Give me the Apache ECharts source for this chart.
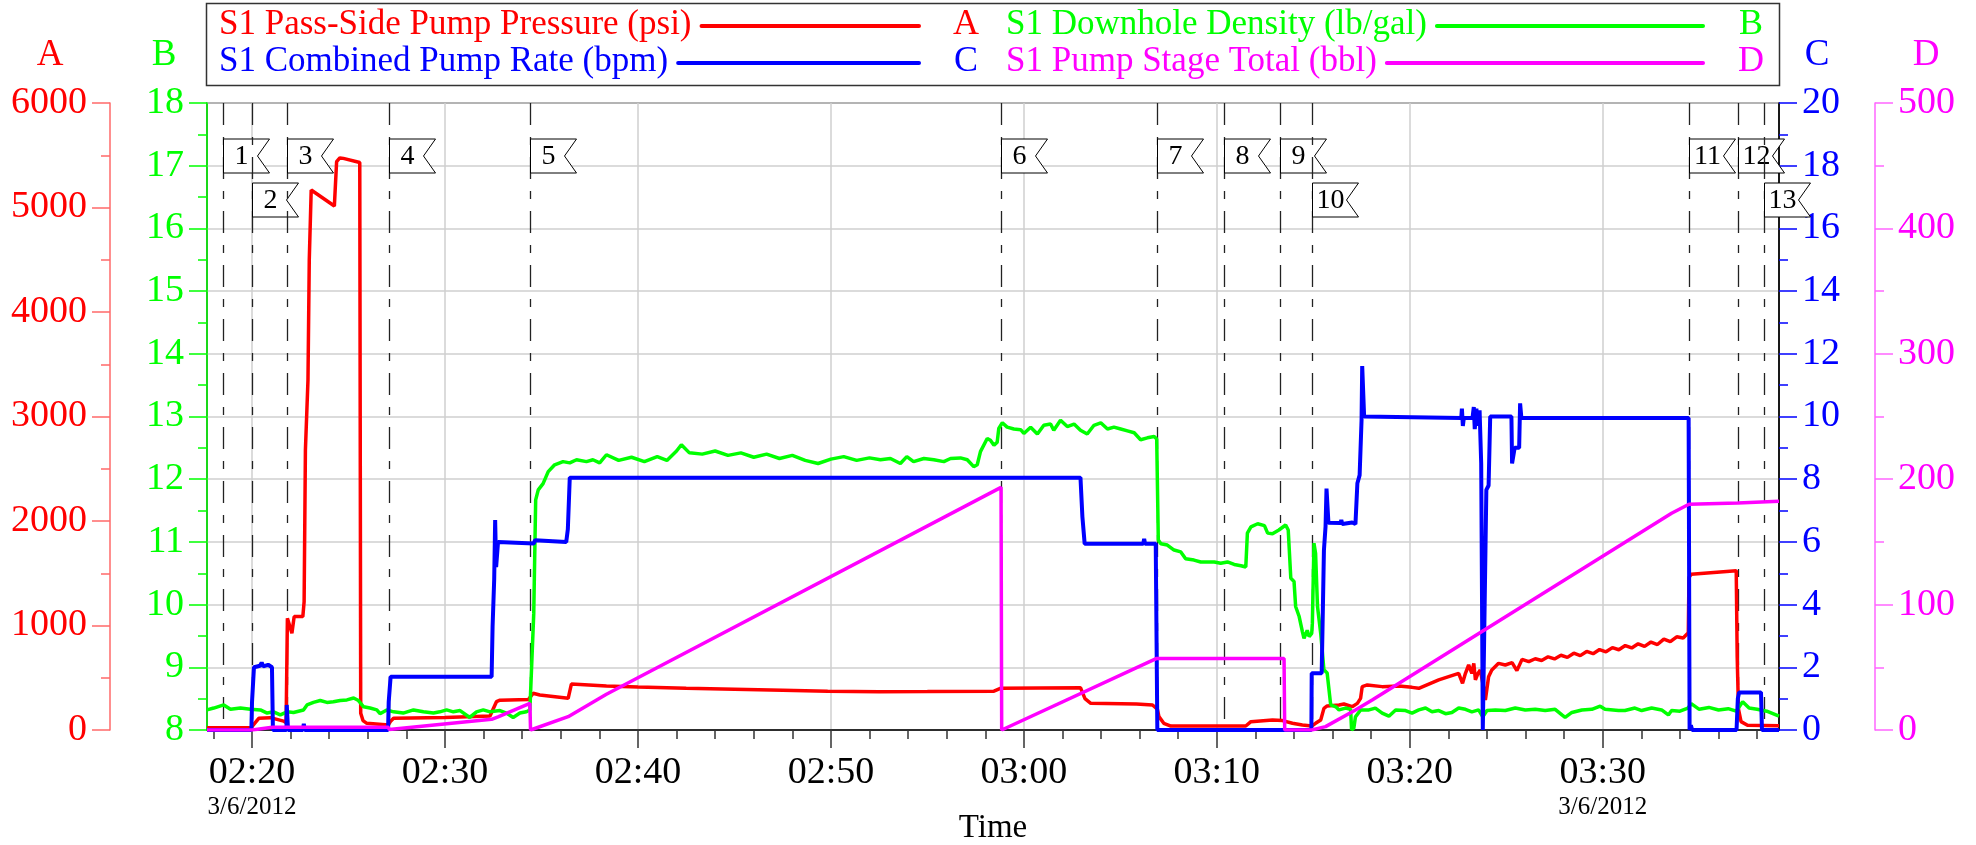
<!DOCTYPE html>
<html>
<head>
<meta charset="utf-8">
<title>S1 Pump Stage Chart</title>
<script src="https://cdn.jsdelivr.net/npm/echarts@6/dist/echarts.min.js"></script>
<style>
html, body { margin: 0; padding: 0; background: #fff; }
#chart { width: 1976px; height: 845px; }
</style>
</head>
<body>
<div id="chart"></div>
<script>
// 时间范围与刻度
const xStart = '02:17:40';
const xEnd = '03:39:08';
const timeTicks = ['02:20', '02:30', '02:40', '02:50', '03:00', '03:10', '03:20', '03:30'];
const dateText = '3/6/2012';

// 事件标记 (1..13)
const markerTimes = ['02:18:29', '02:20:00', '02:21:50', '02:27:05', '02:34:24', '02:58:49', '03:06:55',
    '03:10:23', '03:13:16', '03:14:55', '03:34:28', '03:36:59', '03:38:20'];

// A: S1 Pass-Side Pump Pressure (psi)
const pressurePoints = [
    ['02:17:40', 22], ['02:19:58', 25], ['02:20:10', 70], ['02:20:21', 112], ['02:20:57', 118],
    ['02:21:38', 85], ['02:21:46', 70], ['02:21:50', 1069], ['02:22:04', 925], ['02:22:11', 1085],
    ['02:22:38', 1085], ['02:22:42', 1228], ['02:22:46', 2680], ['02:22:54', 3350], ['02:22:58', 4498],
    ['02:23:04', 5167], ['02:24:16', 5014], ['02:24:23', 5438], ['02:24:33', 5474], ['02:24:44', 5470],
    ['02:25:35', 5430], ['02:25:38', 160], ['02:25:45', 90], ['02:25:57', 64], ['02:27:04', 48],
    ['02:27:10', 80], ['02:27:20', 112], ['02:30:00', 120], ['02:32:20', 134], ['02:32:40', 271],
    ['02:32:51', 285], ['02:34:20', 293], ['02:34:25', 280], ['02:34:34', 351], ['02:34:55', 335],
    ['02:36:23', 303], ['02:36:33', 440], ['02:38:22', 421], ['02:40:00', 412], ['02:42:30', 400],
    ['02:45:00', 390], ['02:47:30', 380], ['02:49:50', 370], ['02:52:30', 367], ['02:55:00', 368],
    ['02:58:27', 372], ['02:58:47', 399], ['03:02:56', 405], ['03:03:10', 300], ['03:03:28', 255],
    ['03:05:50', 249], ['03:06:40', 239], ['03:06:55', 200], ['03:07:00', 128], ['03:07:15', 64],
    ['03:07:37', 38], ['03:11:30', 38], ['03:11:46', 80], ['03:12:53', 96], ['03:13:24', 90],
    ['03:13:55', 64], ['03:14:26', 48], ['03:14:55', 38], ['03:15:07', 64], ['03:15:23', 96],
    ['03:15:33', 207], ['03:15:43', 230], ['03:16:20', 239], ['03:16:35', 249], ['03:17:01', 223],
    ['03:17:17', 255], ['03:17:27', 303], ['03:17:32', 415], ['03:17:48', 431], ['03:18:34', 415],
    ['03:19:26', 421], ['03:20:07', 408], ['03:20:28', 399], ['03:21:30', 479], ['03:22:32', 542],
    ['03:22:44', 447], ['03:22:53', 542], ['03:23:03', 622], ['03:23:13', 542], ['03:23:19', 638],
    ['03:23:24', 479], ['03:23:32', 542], ['03:23:39', 574], ['03:23:50', 400], ['03:23:55', 287],
    ['03:24:05', 510], ['03:24:15', 574], ['03:24:36', 638], ['03:24:57', 622], ['03:25:18', 644],
    ['03:25:33', 568], ['03:25:49', 676], ['03:26:10', 655], ['03:26:30', 682], ['03:26:50', 665],
    ['03:27:10', 700], ['03:27:30', 680], ['03:27:50', 715], ['03:28:10', 695], ['03:28:30', 735],
    ['03:28:50', 712], ['03:29:10', 752], ['03:29:30', 730], ['03:29:50', 770], ['03:30:10', 748],
    ['03:30:30', 788], ['03:30:50', 768], ['03:31:10', 808], ['03:31:30', 785], ['03:31:50', 825],
    ['03:32:10', 800], ['03:32:30', 842], ['03:32:50', 818], ['03:33:10', 870], ['03:33:30', 845],
    ['03:33:50', 892], ['03:34:10', 880], ['03:34:26', 930], ['03:34:28', 1460], ['03:34:35', 1490],
    ['03:36:55', 1525], ['03:36:58', 700], ['03:37:02', 200], ['03:37:10', 80], ['03:37:30', 45],
    ['03:39:08', 40]
];

// B: S1 Downhole Density (lb/gal)
const densityPoints = [
    ['02:17:40', 8.32], ['02:18:01', 8.35], ['02:18:32', 8.40], ['02:18:53', 8.33], ['02:19:24', 8.35],
    ['02:19:55', 8.33], ['02:20:26', 8.32], ['02:20:47', 8.27], ['02:21:07', 8.29], ['02:21:28', 8.24],
    ['02:21:49', 8.29], ['02:22:09', 8.28], ['02:22:40', 8.32], ['02:22:51', 8.40], ['02:23:11', 8.44],
    ['02:23:32', 8.47], ['02:23:53', 8.44], ['02:24:13', 8.45], ['02:24:34', 8.47], ['02:24:55', 8.48],
    ['02:25:16', 8.51], ['02:25:31', 8.47], ['02:25:47', 8.37], ['02:26:07', 8.35], ['02:26:28', 8.32],
    ['02:26:38', 8.26], ['02:26:59', 8.32], ['02:27:20', 8.29], ['02:27:50', 8.27], ['02:28:22', 8.32],
    ['02:28:53', 8.29], ['02:29:24', 8.27], ['02:29:44', 8.29], ['02:30:05', 8.32], ['02:30:26', 8.29],
    ['02:30:47', 8.31], ['02:31:17', 8.20], ['02:31:38', 8.29], ['02:31:59', 8.32], ['02:32:20', 8.29],
    ['02:32:51', 8.31], ['02:33:11', 8.27], ['02:33:32', 8.20], ['02:33:53', 8.27], ['02:34:13', 8.29],
    ['02:34:24', 8.32], ['02:34:36', 9.86], ['02:34:42', 11.67], ['02:34:50', 11.83], ['02:35:05', 11.93],
    ['02:35:21', 12.12], ['02:35:41', 12.23], ['02:36:07', 12.28], ['02:36:28', 12.26], ['02:36:49', 12.31],
    ['02:37:20', 12.28], ['02:37:40', 12.31], ['02:38:01', 12.26], ['02:38:22', 12.39], ['02:39:00', 12.30],
    ['02:39:40', 12.35], ['02:40:20', 12.28], ['02:41:00', 12.36], ['02:41:30', 12.30], ['02:42:00', 12.45],
    ['02:42:15', 12.55], ['02:42:40', 12.42], ['02:43:20', 12.40], ['02:44:00', 12.45], ['02:44:40', 12.38],
    ['02:45:20', 12.42], ['02:46:00', 12.35], ['02:46:40', 12.40], ['02:47:20', 12.33], ['02:48:00', 12.38],
    ['02:48:40', 12.30], ['02:49:20', 12.25], ['02:50:00', 12.32], ['02:50:40', 12.36], ['02:51:20', 12.30],
    ['02:52:00', 12.34], ['02:52:34', 12.31], ['02:53:05', 12.33], ['02:53:36', 12.25], ['02:53:56', 12.36],
    ['02:54:17', 12.28], ['02:54:49', 12.33], ['02:55:20', 12.31], ['02:55:51', 12.28], ['02:56:12', 12.33],
    ['02:56:43', 12.34], ['02:57:04', 12.31], ['02:57:24', 12.20], ['02:57:35', 12.23], ['02:57:45', 12.44],
    ['02:58:06', 12.65], ['02:58:16', 12.62], ['02:58:27', 12.54], ['02:58:37', 12.59], ['02:58:42', 12.81],
    ['02:58:53', 12.90], ['02:59:08', 12.83], ['02:59:29', 12.80], ['02:59:50', 12.79], ['03:00:00', 12.73],
    ['03:00:21', 12.83], ['03:00:42', 12.72], ['03:01:02', 12.86], ['03:01:23', 12.88], ['03:01:33', 12.78],
    ['03:01:54', 12.94], ['03:02:15', 12.84], ['03:02:36', 12.88], ['03:02:56', 12.78], ['03:03:17', 12.72],
    ['03:03:38', 12.86], ['03:03:59', 12.90], ['03:04:20', 12.80], ['03:04:40', 12.83], ['03:05:01', 12.80],
    ['03:05:22', 12.77], ['03:05:43', 12.74], ['03:06:03', 12.63], ['03:06:24', 12.66], ['03:06:45', 12.68],
    ['03:06:53', 12.64], ['03:06:58', 11.03], ['03:07:06', 10.97], ['03:07:26', 10.95], ['03:07:47', 10.87],
    ['03:08:08', 10.84], ['03:08:23', 10.73], ['03:08:49', 10.71], ['03:09:10', 10.68], ['03:09:31', 10.68],
    ['03:09:52', 10.68], ['03:10:12', 10.66], ['03:10:33', 10.68], ['03:10:54', 10.64], ['03:11:15', 10.62],
    ['03:11:30', 10.60], ['03:11:35', 11.14], ['03:11:46', 11.24], ['03:12:07', 11.29], ['03:12:28', 11.26],
    ['03:12:38', 11.14], ['03:12:53', 11.13], ['03:13:13', 11.19], ['03:13:34', 11.27], ['03:13:42', 11.19],
    ['03:13:50', 10.42], ['03:14:00', 10.37], ['03:14:05', 9.97], ['03:14:16', 9.81], ['03:14:26', 9.57],
    ['03:14:31', 9.46], ['03:14:41', 9.59], ['03:14:47', 9.49], ['03:14:55', 9.54], ['03:14:57', 9.70],
    ['03:15:02', 10.98], ['03:15:07', 10.82], ['03:15:13', 9.97], ['03:15:23', 9.54], ['03:15:33', 8.96],
    ['03:15:43', 8.91], ['03:15:54', 8.40], ['03:16:10', 8.37], ['03:16:20', 8.32], ['03:16:40', 8.35],
    ['03:16:56', 8.33], ['03:16:59', 8.00], ['03:17:06', 8.03], ['03:17:11', 8.21], ['03:17:27', 8.32],
    ['03:17:53', 8.32], ['03:18:13', 8.35], ['03:18:34', 8.27], ['03:18:55', 8.22], ['03:19:16', 8.32],
    ['03:19:47', 8.31], ['03:20:07', 8.27], ['03:20:28', 8.32], ['03:20:49', 8.35], ['03:21:09', 8.29],
    ['03:21:30', 8.31], ['03:21:51', 8.26], ['03:22:11', 8.28], ['03:22:32', 8.35], ['03:22:53', 8.33],
    ['03:23:13', 8.29], ['03:23:34', 8.32], ['03:23:47', 8.21], ['03:24:00', 8.31], ['03:24:26', 8.32],
    ['03:24:57', 8.31], ['03:25:28', 8.35], ['03:25:59', 8.32], ['03:26:30', 8.33], ['03:27:01', 8.31],
    ['03:27:32', 8.33], ['03:27:53', 8.24], ['03:28:03', 8.20], ['03:28:24', 8.28], ['03:28:55', 8.32],
    ['03:29:26', 8.33], ['03:29:52', 8.38], ['03:30:07', 8.33], ['03:30:49', 8.31], ['03:31:09', 8.31],
    ['03:31:40', 8.35], ['03:32:01', 8.31], ['03:32:32', 8.35], ['03:33:03', 8.32], ['03:33:24', 8.24],
    ['03:33:34', 8.31], ['03:34:00', 8.30], ['03:34:25', 8.35], ['03:34:35', 8.42], ['03:35:00', 8.33],
    ['03:35:30', 8.36], ['03:36:00', 8.32], ['03:36:30', 8.34], ['03:36:55', 8.30], ['03:37:15', 8.45],
    ['03:37:35', 8.35], ['03:38:00', 8.33], ['03:38:30', 8.30], ['03:39:08', 8.22]
];

// C: S1 Combined Pump Rate (bpm)
const ratePoints = [
    ['02:17:40', 0], ['02:19:58', 0], ['02:20:00', 0.9], ['02:20:06', 2.0], ['02:20:25', 2.05],
    ['02:20:30', 2.15], ['02:20:35', 2.03], ['02:20:50', 2.08], ['02:21:02', 2.0], ['02:21:05', 0],
    ['02:21:47', 0], ['02:21:48', 0.8], ['02:21:52', 0], ['02:22:38', 0], ['02:22:41', 0.2],
    ['02:22:44', 0], ['02:27:03', 0], ['02:27:05', 0.9], ['02:27:11', 1.7], ['02:32:25', 1.7],
    ['02:32:28', 3.3], ['02:32:33', 4.8], ['02:32:36', 6.7], ['02:32:39', 5.2], ['02:32:45', 6.0],
    ['02:34:36', 5.95], ['02:34:40', 6.05], ['02:36:17', 6.0], ['02:36:22', 6.4], ['02:36:28', 8.05],
    ['03:02:56', 8.05], ['03:03:02', 6.8], ['03:03:09', 5.94], ['03:06:11', 5.94], ['03:06:14', 6.1],
    ['03:06:17', 5.94], ['03:06:50', 5.94], ['03:06:55', 0], ['03:14:54', 0], ['03:14:55', 1.81],
    ['03:15:26', 1.81], ['03:15:30', 4.04], ['03:15:33', 5.74], ['03:15:38', 6.49], ['03:15:41', 7.7],
    ['03:15:47', 6.61], ['03:16:25', 6.6], ['03:16:27', 6.7], ['03:16:30', 6.57], ['03:17:01', 6.62],
    ['03:17:11', 6.57], ['03:17:17', 7.87], ['03:17:24', 8.13], ['03:17:30', 9.89], ['03:17:32', 11.61],
    ['03:17:38', 10.0], ['03:22:40', 9.95], ['03:22:42', 10.25], ['03:22:45', 9.7], ['03:22:48', 9.95],
    ['03:23:15', 9.95], ['03:23:19', 10.3], ['03:23:22', 9.6], ['03:23:27', 10.25], ['03:23:32', 9.7],
    ['03:23:37', 10.2], ['03:23:42', 8.5], ['03:23:47', 0], ['03:23:52', 0], ['03:23:58', 7.66],
    ['03:24:05', 7.8], ['03:24:10', 10.0], ['03:25:16', 10.0], ['03:25:18', 8.5], ['03:25:26', 9.0],
    ['03:25:40', 9.0], ['03:25:43', 10.42], ['03:25:47', 9.95], ['03:34:27', 9.95], ['03:34:30', 0],
    ['03:34:34', 0.15], ['03:34:38', 0], ['03:36:56', 0], ['03:37:00', 1.0], ['03:37:04', 1.2],
    ['03:38:12', 1.2], ['03:38:15', 0], ['03:39:08', 0]
];

// D: S1 Pump Stage Total (bbl)
const stagePoints = [
    ['02:17:40', 0], ['02:20:00', 0], ['02:20:57', 2.0], ['02:21:05', 2.1], ['02:27:04', 2.1],
    ['02:27:07', 0.4], ['02:32:25', 8.5], ['02:32:45', 10.5], ['02:34:24', 21.3], ['02:34:26', 0],
    ['02:36:23', 10.6], ['02:38:22', 28.5], ['02:58:49', 193.5], ['02:58:51', 0], ['03:06:53', 57.1],
    ['03:13:29', 57.1], ['03:13:31', 0], ['03:14:55', 0], ['03:15:38', 2.7], ['03:17:11', 16],
    ['03:18:03', 24], ['03:33:34', 172.8], ['03:34:28', 180], ['03:37:00', 181], ['03:39:08', 182.5]
];

const seriesNames = ['S1 Pass-Side Pump Pressure (psi)', 'S1 Combined Pump Rate (bpm)',
    'S1 Downhole Density (lb/gal)', 'S1 Pump Stage Total (bbl)'];

// ---------------------------------------------------------------

const FONT = '"Liberation Serif", "Times New Roman", serif';
const RED = '#ff0000', GREEN = '#00ff00', BLUE = '#0000ff', MAGENTA = '#ff00ff';

function toMs(t) {
    const p = t.split(':').map(Number);
    return Date.UTC(2012, 2, 6, p[0], p[1], p[2] || 0);
}
function toData(points) {
    return points.map(p => [toMs(p[0]), p[1]]);
}
function hhmm(ms) {
    const d = new Date(ms);
    return String(d.getUTCHours()).padStart(2, '0') + ':' + String(d.getUTCMinutes()).padStart(2, '0');
}

const xMin = toMs(xStart), xMax = toMs(xEnd);
const majorTickValues = timeTicks.map(t => toMs(t));
// 小刻度：每两分钟
const minorTickValues = [];
for (let v = Math.ceil(xMin / 120000) * 120000; v <= xMax; v += 120000) minorTickValues.push(v);

// 事件旗标
const flagW = 46, flagH = 34, notch = 12;
let flagRows = [], flagXs = [];
function renderMarker(params, api) {
    const i = params.dataIndex;
    const cs = params.coordSys;
    const x = Math.round(api.coord([api.value(0), api.value(1)])[0]) + 0.5;
    if (i === 0) { flagRows = []; flagXs = []; }
    let row = 0;
    if (i > 0 && flagRows[i - 1] === 0 && x - flagXs[i - 1] < flagW) row = 1;
    flagRows[i] = row;
    flagXs[i] = x;
    const top = cs.y + 36 + row * 44;
    return {
        type: 'group',
        children: [
            {
                type: 'line',
                shape: { x1: x, y1: cs.y, x2: x, y2: cs.y + cs.height },
                style: { stroke: '#222', lineWidth: 1.3, lineDash: [22, 12, 8, 12] }
            },
            {
                type: 'polygon',
                shape: { points: [[x, top], [x + flagW, top], [x + flagW - notch, top + flagH / 2],
                    [x + flagW, top + flagH], [x, top + flagH]] },
                style: { fill: '#fff', stroke: '#000', lineWidth: 1 }
            },
            {
                type: 'text',
                style: {
                    text: String(i + 1), x: x + (flagW - notch) / 2 + 1, y: top + flagH / 2 + 1,
                    textAlign: 'center', textVerticalAlign: 'middle', align: 'center', verticalAlign: 'middle',
                    font: '28px ' + FONT, fill: '#000'
                }
            }
        ]
    };
}

// 图例（自绘：文字 + 线 + 字母）
const legendItems = [
    { text: seriesNames[0], color: RED, letter: 'A', row: 0, col: 0 },
    { text: seriesNames[1], color: BLUE, letter: 'C', row: 1, col: 0 },
    { text: seriesNames[2], color: GREEN, letter: 'B', row: 0, col: 1 },
    { text: seriesNames[3], color: MAGENTA, letter: 'D', row: 1, col: 1 }
];
const legendFont = '35px ' + FONT;
const rowY = [25, 62], textX = [219, 1006], lineEndX = [919, 1703], letterX = [966, 1751];
const measureCtx = document.createElement('canvas').getContext('2d');
measureCtx.font = legendFont;

const graphicElements = [{
    type: 'rect', z: 10,
    shape: { x: 206.5, y: 3.5, width: 1573, height: 82 },
    style: { fill: '#fff', stroke: '#333', lineWidth: 1.5 }
}];
legendItems.forEach(it => {
    const y = rowY[it.row];
    const w = measureCtx.measureText(it.text).width;
    graphicElements.push({
        type: 'text', z: 11,
        style: { text: it.text, x: textX[it.col], y: y, font: legendFont, fill: it.color,
            textAlign: 'left', textVerticalAlign: 'middle', align: 'left', verticalAlign: 'middle' }
    });
    graphicElements.push({
        type: 'line', z: 11,
        shape: { x1: textX[it.col] + w + 10, y1: y + 1, x2: lineEndX[it.col], y2: y + 1 },
        style: { stroke: it.color, lineWidth: 4, lineCap: 'round' }
    });
    graphicElements.push({
        type: 'text', z: 11,
        style: { text: it.letter, x: letterX[it.col], y: y, font: '36px ' + FONT, fill: it.color,
            textAlign: 'center', textVerticalAlign: 'middle', align: 'center', verticalAlign: 'middle' }
    });
});

function yAxisDef(opts) {
    return {
        type: 'value',
        position: opts.position,
        offset: opts.offset,
        min: opts.min, max: opts.max, interval: opts.interval,
        name: opts.name, nameLocation: 'end', nameGap: 29, nameMoveOverlap: false,
        nameTextStyle: { color: opts.color, fontSize: 37, fontFamily: FONT, padding: opts.namePad },
        axisLine: { show: true, onZero: false, lineStyle: { color: opts.lineColor, width: 1.5 } },
        axisTick: { show: true, inside: false, length: 18, lineStyle: { color: opts.tickColor, width: 1.5 } },
        minorTick: { show: true, splitNumber: 2, length: 9, lineStyle: { color: opts.tickColor, width: 1.5 } },
        axisLabel: { color: opts.color, fontSize: 38, fontFamily: FONT, margin: 23,
            formatter: function (v) { return String(v); } },
        splitLine: { show: !!opts.grid, lineStyle: { color: '#cfcfcf', width: 1.5 } },
        minorSplitLine: { show: false }
    };
}

const chart = echarts.init(document.getElementById('chart'), null, { renderer: 'canvas' });

const option = {
    animation: false,
    backgroundColor: '#fff',
    textStyle: { fontFamily: FONT },
    grid: {
        left: 207, right: 197, top: 103, bottom: 115,
        show: true, borderColor: '#333', borderWidth: 1.5, backgroundColor: 'transparent',
        containLabel: false, outerBoundsMode: 'none'
    },
    xAxis: [
        {
            type: 'value', position: 'bottom', min: xMin, max: xMax,
            name: 'Time', nameLocation: 'middle', nameGap: 82, nameMoveOverlap: false,
            nameTextStyle: { fontSize: 33, color: '#000', fontFamily: FONT },
            axisLine: { show: true, onZero: false, lineStyle: { color: '#000', width: 1.5 } },
            axisTick: { show: true, length: 18, customValues: majorTickValues, lineStyle: { color: '#333', width: 1.5 } },
            axisLabel: {
                customValues: majorTickValues, margin: 23, color: '#000',
                formatter: function (val) {
                    const s = hhmm(val);
                    if (s === timeTicks[0] || s === timeTicks[timeTicks.length - 1]) {
                        return '{t|' + s + '}\n{d|' + dateText + '}';
                    }
                    return '{t|' + s + '}';
                },
                rich: {
                    t: { fontSize: 38, lineHeight: 40, color: '#000', fontFamily: FONT },
                    d: { fontSize: 25, lineHeight: 28, color: '#000', fontFamily: FONT }
                }
            },
            splitLine: { show: true, lineStyle: { color: '#cfcfcf', width: 1.5 } }
        },
        {
            type: 'value', position: 'bottom', min: xMin, max: xMax,
            axisLine: { show: false, onZero: false },
            axisTick: { show: true, length: 9, customValues: minorTickValues, lineStyle: { color: '#333', width: 1.5 } },
            axisLabel: { show: false },
            splitLine: { show: false }
        }
    ],
    yAxis: [
        yAxisDef({ position: 'left', offset: 97, min: 0, max: 6000, interval: 1000, name: 'A',
            color: RED, lineColor: '#ff6a6a', tickColor: '#ff6a6a', namePad: [0, 120, 0, 0] }),
        yAxisDef({ position: 'left', offset: 0, min: 8, max: 18, interval: 1, name: 'B',
            color: GREEN, lineColor: GREEN, tickColor: GREEN, namePad: [0, 86, 0, 0], grid: true }),
        yAxisDef({ position: 'right', offset: 0, min: 0, max: 20, interval: 2, name: 'C',
            color: BLUE, lineColor: '#000', tickColor: BLUE, namePad: [0, 0, 0, 76] }),
        yAxisDef({ position: 'right', offset: 96, min: 0, max: 500, interval: 100, name: 'D',
            color: MAGENTA, lineColor: '#ff66ff', tickColor: '#ff66ff', namePad: [0, 0, 0, 102] })
    ],
    series: [
        {
            type: 'custom', name: 'markers', xAxisIndex: 0, yAxisIndex: 1, z: 1, clip: false,
            renderItem: renderMarker, silent: true,
            encode: { x: 0, y: 1 },
            data: markerTimes.map(t => [toMs(t), 18])
        },
        {
            type: 'line', name: seriesNames[0], xAxisIndex: 0, yAxisIndex: 0, z: 3,
            showSymbol: false, symbol: 'none', lineStyle: { color: RED, width: 3.5 },
            data: toData(pressurePoints)
        },
        {
            type: 'line', name: seriesNames[2], xAxisIndex: 0, yAxisIndex: 1, z: 4,
            showSymbol: false, symbol: 'none', lineStyle: { color: GREEN, width: 3.5 },
            data: toData(densityPoints)
        },
        {
            type: 'line', name: seriesNames[1], xAxisIndex: 0, yAxisIndex: 2, z: 5,
            showSymbol: false, symbol: 'none', lineStyle: { color: BLUE, width: 4 },
            data: toData(ratePoints)
        },
        {
            type: 'line', name: seriesNames[3], xAxisIndex: 0, yAxisIndex: 3, z: 6,
            showSymbol: false, symbol: 'none', lineStyle: { color: MAGENTA, width: 3.5 },
            data: toData(stagePoints)
        }
    ],
    graphic: { elements: graphicElements }
};

chart.setOption(option);
window.addEventListener('resize', function () { chart.resize(); });
</script>
</body>
</html>
